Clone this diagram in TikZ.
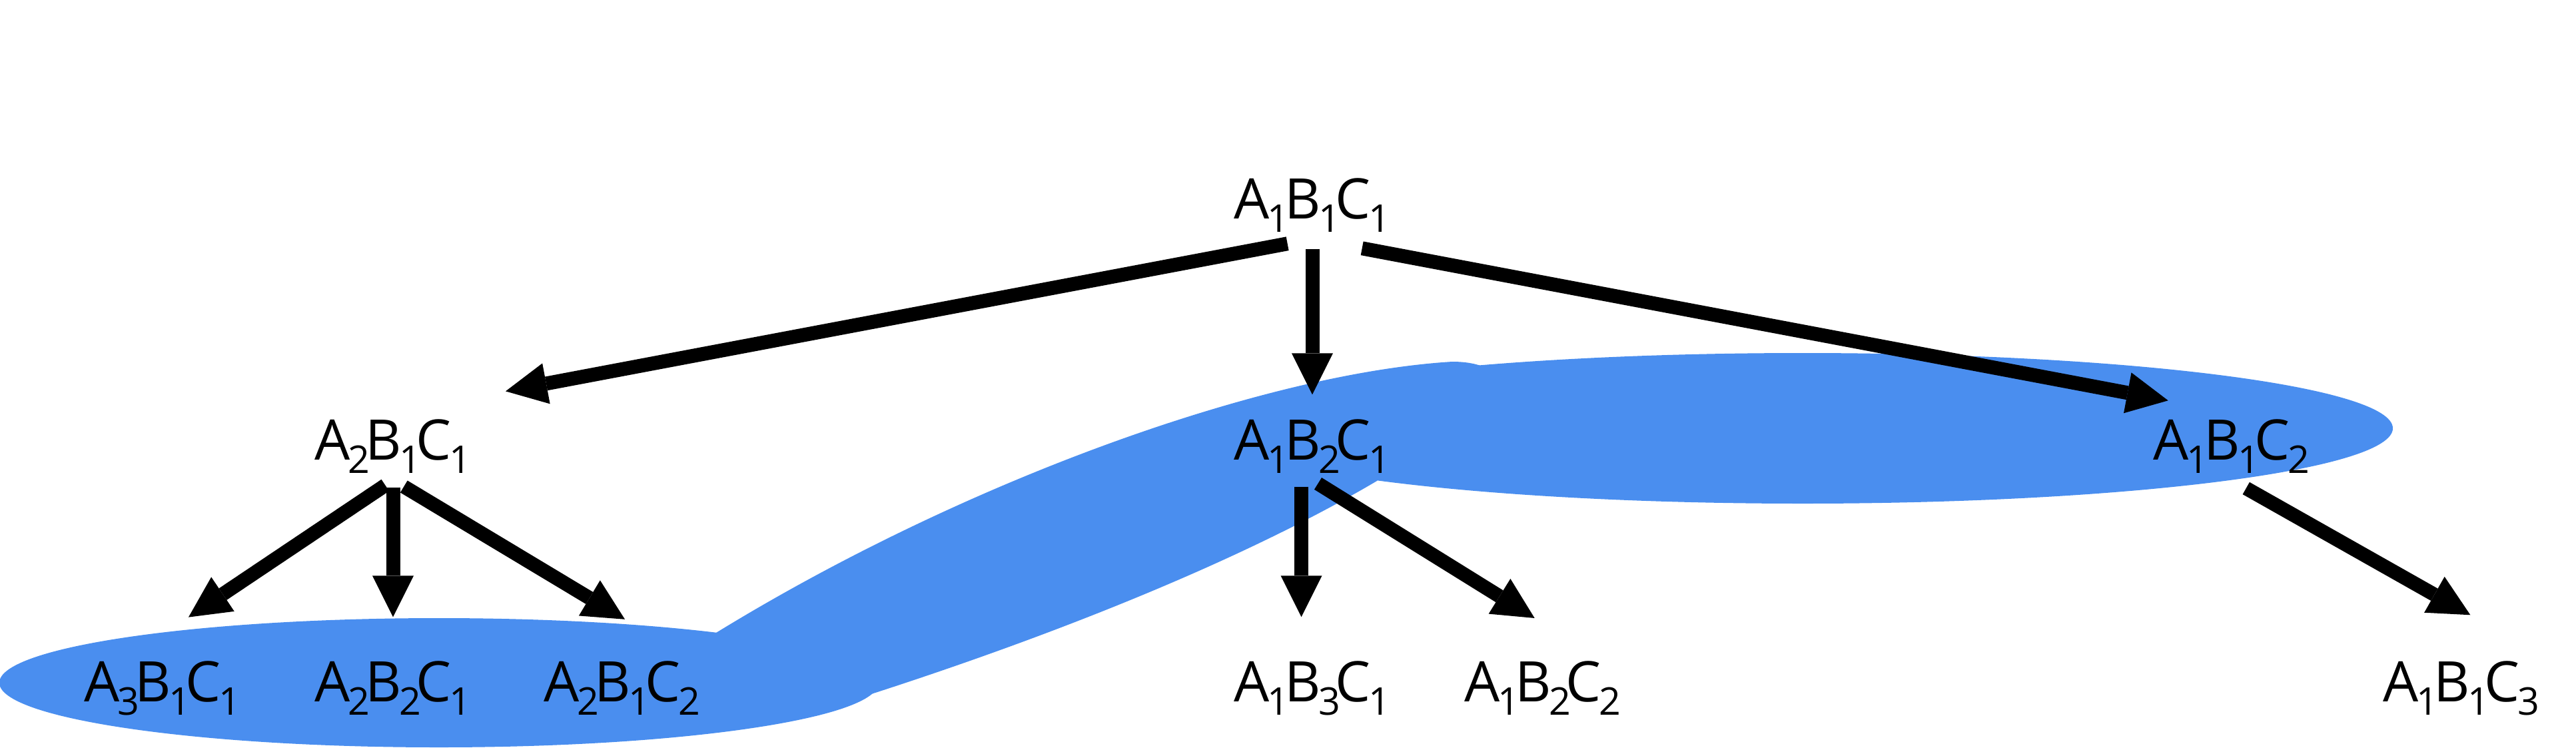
\documentclass[tikz,border=0pt]{standalone}
\usepackage{fontspec}
\setmainfont{Open Sans}
\usetikzlibrary{arrows.meta}

\definecolor{blobblue}{RGB}{74,142,239}
\newcommand{\subx}[1]{\raisebox{-0.2cm}{\fontsize{16.3}{18}\selectfont #1}}
\newcommand{\abc}[3]{A\kern-1pt\subx{#1}\kern-2pt B\kern-1pt\subx{#2}\kern-2pt C\kern-1pt\subx{#3}}

\begin{document}
\begin{tikzpicture}[
    state/.style={inner sep=0pt, minimum width=2.30cm, minimum height=1.00cm,
        font=\fontsize{23.9}{28}\selectfont},
    blob/.style={fill=blobblue},
    arrow/.style={-{Triangle[length=0.62cm, width=0.62cm, line width=0pt]},
        line width=0.21cm}
]
    \useasboundingbox (0, 0) rectangle (38.67, -11.25);

    \fill[blob] (6.59, -10.25) ellipse [x radius=6.60, y radius=0.97];
    \fill[blob] (27.06, -6.43) ellipse [x radius=8.86, y radius=1.13];
    \fill[blob] (10.75, -9.50)
        .. controls (14.50, -7.20) and (19.00, -5.60) .. (21.80, -5.43)
        .. controls (22.00, -5.43) and (22.15, -5.46) .. (22.25, -5.50)
        -- (20.67, -7.22)
        .. controls (18.50, -8.50) and (15.50, -9.65) .. (12.83, -10.50)
        -- cycle;

    \node[state] (a1b1c1) at (19.70, -3.08) {\abc{1}{1}{1}};

    \node[state] (a2b1c1) at (5.90, -6.70) {\abc{2}{1}{1}};
    \node[state] (a1b2c1) at (19.70, -6.70) {\abc{1}{2}{1}};
    \node[state] (a1b1c2) at (33.50, -6.70) {\abc{1}{1}{2}};

    \node[state] (a3b1c1) at (2.44, -10.33) {\abc{3}{1}{1}};
    \node[state] (a2b2c1) at (5.90, -10.33) {\abc{2}{2}{1}};
    \node[state] (a2b1c2) at (9.34, -10.33) {\abc{2}{1}{2}};
    \node[state] (a1b3c1) at (19.70, -10.33) {\abc{1}{3}{1}};
    \node[state] (a1b2c2) at (23.16, -10.33) {\abc{1}{2}{2}};
    \node[state] (a1b1c3) at (36.95, -10.33) {\abc{1}{1}{3}};

    \draw[arrow, shorten <=0.38cm, shorten >=1.72cm] (a1b1c1.south) -- (a2b1c1.north);
    \draw[arrow, shorten <=0.15cm, shorten >=0.27cm] (a1b1c1.south) -- (a1b2c1.north);
    \draw[arrow, shorten <=0.76cm, shorten >=0.97cm] (a1b1c1.south) -- (a1b1c2.north);

    \draw[arrow, shorten <=0.14cm, shorten >=1.00cm] (a2b1c1.south) -- (a3b1c1.131);
    \draw[arrow, shorten <=0.11cm, shorten >=0.56cm] (a2b1c1.south) -- (a2b2c1.north);
    \draw[arrow, shorten <=0.19cm, shorten >=1.02cm] (a2b1c1.south) -- (a2b1c2.29);

    \draw[arrow, shorten <=0.10cm, shorten >=0.56cm] (a1b2c1.252) -- (a1b3c1.108);
    \draw[arrow, shorten <=0.10cm, shorten >=1.03cm] (a1b2c1.south) -- (a1b2c2.34);

    \draw[arrow, shorten <=0.25cm, shorten >=1.20cm] (a1b1c2.south) -- (a1b1c3.north east);
\end{tikzpicture}
\end{document}
